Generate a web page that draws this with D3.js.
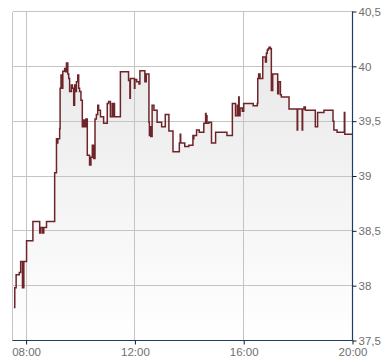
<!DOCTYPE html>
<html><head><meta charset="utf-8">
<script src="https://cdn.jsdelivr.net/npm/d3@7"></script>
<style>html,body{margin:0;padding:0;background:#fff;}svg{display:block;}</style>
</head><body><svg id="c" width="390" height="364"></svg>
<script>
const times = ["07:33","07:35","07:38","07:45","07:48","07:52","07:53","07:54","07:55","08:01","08:15","08:30","08:32","08:36","08:37","08:38","08:39","08:45",
"09:03","09:07","09:08","09:10","09:14","09:15","09:17","09:20","09:21","09:25","09:27","09:29","09:32","09:34","09:36","09:40","09:42","09:45","09:47","09:49","09:51","09:54","09:56","09:58",
"10:01","10:04","10:06","10:09","10:12","10:15","10:20","10:23","10:26","10:29","10:32","10:35","10:38","10:40","10:44","10:51","10:59",
"11:02","11:06","11:10","11:12","11:13","11:15","11:28","11:46","11:49","11:50","11:59",
"12:00","12:04","12:09","12:11","12:22","12:25","12:31","12:32","12:33","12:35","12:38","12:42","12:49","12:59",
"13:07","13:15","13:24","13:38","13:40","13:41","13:50","13:59",
"14:08","14:09","14:10","14:16","14:22","14:32","14:36","14:37","14:38","14:39","14:43","14:49","14:58",
"15:23","15:35","15:42","15:46","15:47","15:49","15:50","15:52","15:57",
"16:00","16:21","16:30","16:31","16:33","16:36","16:42","16:48","16:50","16:52","16:54","16:56","16:59",
"17:01","17:04","17:15","17:17","17:21","17:23","17:40","17:58","17:59",
"18:09","18:10","18:13","18:16","18:38","18:43","18:57",
"19:17","19:19","19:26","19:42","19:43","20:00"];
const prices = [37.80,37.98,38.10,38.12,38.22,37.98,38.22,37.98,38.22,38.41,38.585,38.48,38.53,38.48,38.53,38.48,38.53,38.585,
39.03,39.34,39.30,39.34,39.43,39.80,39.92,39.80,39.955,39.98,39.95,40.03,39.93,39.89,39.77,39.83,39.80,39.645,39.83,39.77,39.86,39.92,39.80,39.77,
39.69,39.45,39.51,39.45,39.52,39.19,39.10,39.17,39.28,39.16,39.52,39.56,39.645,39.60,39.54,39.48,39.66,
39.68,39.54,39.66,39.54,39.66,39.54,39.95,39.87,39.71,39.89,39.80,
39.88,39.86,39.84,39.96,39.86,39.93,39.49,39.37,39.45,39.36,39.645,39.60,39.49,39.45,
39.56,39.41,39.22,39.30,39.38,39.30,39.27,39.28,
39.37,39.34,39.37,39.42,39.40,39.48,39.57,39.50,39.55,39.48,39.49,39.30,39.40,
39.37,39.66,39.55,39.645,39.55,39.72,39.55,39.62,39.59,
39.66,39.64,39.66,39.89,39.93,39.89,40.085,40.04,40.12,40.15,40.16,40.175,40.16,
39.78,39.93,39.75,39.86,39.74,39.72,39.61,39.42,39.61,
39.42,39.61,39.63,39.60,39.45,39.58,39.60,
39.50,39.42,39.40,39.58,39.38,39.38];
const yTicks = [37.5,38,38.5,39,39.5,40,40.5];
const yTickLabels = ["37,5","38","38,5","39","39,5","40","40,5"];
const xTicks = ["08:00","12:00","16:00","20:00"];
const xDomain = ["07:30","20:00"];

const parse = d3.timeParse("%H:%M");
const data = times.map((t,i)=>({t:parse(t), v:prices[i]}));
const L=12.5, R=352.5, T=11.5, B=340.5;
const x = d3.scaleTime().domain(xDomain.map(parse)).range([L,R]);
const y = d3.scaleLinear().domain([37.5,40.5]).range([B,T]);
const svg = d3.select("#c");

const grad = svg.append("defs").append("linearGradient").attr("id","g")
  .attr("gradientUnits","userSpaceOnUse").attr("x1",0).attr("y1",T).attr("x2",0).attr("y2",B);
grad.append("stop").attr("offset",0).attr("stop-color","#e6e6e6");
grad.append("stop").attr("offset",1).attr("stop-color","#ffffff");

const area = d3.area().curve(d3.curveStepAfter).x(d=>x(d.t)).y0(B).y1(d=>y(d.v));
svg.append("path").datum(data).attr("d",area).attr("fill","url(#g)");

// grid
const grid = svg.append("g").attr("stroke","#c4c4c4").attr("stroke-width",1).attr("shape-rendering","crispEdges");
yTicks.forEach(v=>{ if(v>37.5) grid.append("line").attr("x1",L).attr("x2",R).attr("y1",y(v)).attr("y2",y(v)); });
xTicks.slice(0,3).forEach(t=>{ grid.append("line").attr("x1",x(parse(t))).attr("x2",x(parse(t))).attr("y1",T).attr("y2",B); });
grid.append("line").attr("x1",L).attr("x2",L).attr("y1",T).attr("y2",B);

const line = d3.line().curve(d3.curveStepAfter).x(d=>x(d.t)).y(d=>y(d.v));
svg.append("path").datum(data).attr("d",line).attr("fill","none").attr("stroke","#6e2429").attr("stroke-width",1.5);

// axes
const ra = svg.append("g").attr("transform",`translate(${R},0)`)
  .call(d3.axisRight(y).tickValues(yTicks).tickFormat((d,i)=>yTickLabels[i]).tickSize(4).tickPadding(2));
const ba = svg.append("g").attr("transform",`translate(0,${B})`)
  .call(d3.axisBottom(x).tickValues(xTicks.map(parse)).tickFormat(d3.timeFormat("%H:%M")).tickSize(4).tickPadding(3));
[ra,ba].forEach(a=>{
  a.select(".domain").attr("stroke","#1d3b6b").attr("stroke-width",1.2);
  a.selectAll(".tick line").attr("stroke","#1a1a1a");
  a.selectAll("text").attr("fill","#6f6f6f").attr("font-family","'Liberation Sans', Arial, sans-serif").attr("font-size",11.5);
});
ba.select(".domain").attr("d",`M${L},0H${R}`);
ra.select(".domain").attr("d",`M0,${T}V${B}`);
</script></body></html>
